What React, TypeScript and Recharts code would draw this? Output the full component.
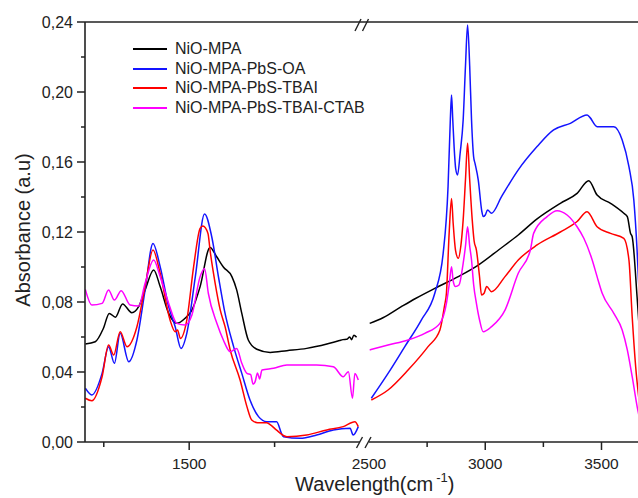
import React from 'react';
import { LineChart, Line, XAxis, YAxis, Legend } from 'recharts';

const FONT = '"Liberation Sans", Arial, sans-serif';
const INK = '#222222';

const seriesNames = ['NiO-MPA', 'NiO-MPA-PbS-OA', 'NiO-MPA-PbS-TBAI', 'NiO-MPA-PbS-TBAI-CTAB'];
const seriesColors = ['#000000', '#1414ff', '#ff0000', '#ff00ff'];

const yTicks = [0, 0.02, 0.04, 0.06, 0.08, 0.1, 0.12, 0.14, 0.16, 0.18, 0.2, 0.22, 0.24];
const leftTicks = [1250, 1500, 1750];
const rightTicks = [2500, 2750, 3000, 3250, 3500];
const labelledXTicks = [1500, 2500, 3000, 3500];
const leftDomain = [1195, 2000];
const rightDomain = [2500, 3700];

// [wavenumber, absorbance] — segment below the axis break
const nioMpaLeft: [number, number][] = [
  [1196, 0.056], [1225, 0.0573], [1249, 0.065], [1266, 0.0735], [1284, 0.0713], [1305, 0.0789],
  [1332, 0.0739], [1352, 0.0773], [1371, 0.0869], [1396, 0.0983], [1415, 0.0888], [1440, 0.0735],
  [1464, 0.0678], [1488, 0.0707], [1508, 0.0754], [1532, 0.0888], [1561, 0.1112], [1580, 0.106],
  [1600, 0.1], [1625, 0.0945], [1639, 0.0869], [1654, 0.0735], [1673, 0.0583], [1698, 0.053],
  [1737, 0.0512], [1786, 0.0522], [1844, 0.0535], [1903, 0.056], [1940, 0.058], [1950, 0.0585],
  [1961, 0.0587], [1970, 0.06], [1975, 0.0585], [1982, 0.061], [1990, 0.0598],
];
const oaLeft: [number, number][] = [
  [1196, 0.0307], [1215, 0.0269], [1245, 0.0392], [1264, 0.0545], [1281, 0.045], [1298, 0.0621],
  [1323, 0.0459], [1347, 0.0583], [1371, 0.0869], [1394, 0.1135], [1415, 0.1002], [1440, 0.0773],
  [1459, 0.0659], [1476, 0.0535], [1493, 0.0621], [1518, 0.0945], [1545, 0.1303], [1566, 0.1173],
  [1586, 0.094], [1603, 0.0754], [1630, 0.0545], [1654, 0.0392], [1678, 0.024], [1703, 0.0145],
  [1727, 0.0116], [1756, 0.0116], [1770, 0.005], [1776, 0.003], [1825, 0.0021], [1873, 0.004],
  [1922, 0.0069], [1971, 0.0078], [1980, 0.004], [1995, 0.0088],
];
const tbaiLeft: [number, number][] = [
  [1196, 0.025], [1215, 0.0236], [1245, 0.0373], [1264, 0.0554], [1279, 0.0497], [1298, 0.063],
  [1318, 0.0545], [1347, 0.0659], [1371, 0.0888], [1394, 0.1097], [1415, 0.0964], [1444, 0.0697],
  [1459, 0.063], [1466, 0.064], [1474, 0.0592], [1493, 0.0697], [1513, 0.1002], [1532, 0.1221],
  [1540, 0.1234], [1555, 0.1192], [1561, 0.1097], [1576, 0.0907], [1591, 0.0754], [1605, 0.0659],
  [1620, 0.0526], [1649, 0.0354], [1669, 0.0202], [1683, 0.0126], [1700, 0.011], [1727, 0.011],
  [1740, 0.0095], [1755, 0.0069], [1786, 0.003], [1844, 0.004], [1903, 0.0069], [1951, 0.0088],
  [1985, 0.0116], [1995, 0.0088],
];
const ctabLeft: [number, number][] = [
  [1196, 0.0872], [1215, 0.0783], [1245, 0.0792], [1264, 0.0869], [1281, 0.0811], [1301, 0.0865],
  [1327, 0.0783], [1352, 0.0777], [1371, 0.0907], [1396, 0.104], [1415, 0.0945], [1440, 0.0792],
  [1464, 0.0678], [1488, 0.0669], [1508, 0.0726], [1532, 0.0945], [1545, 0.0992], [1556, 0.085],
  [1581, 0.0678], [1600, 0.0583], [1620, 0.0516], [1639, 0.0535], [1654, 0.045], [1669, 0.0392],
  [1680, 0.0385], [1687, 0.033], [1693, 0.0345], [1700, 0.0395], [1706, 0.036], [1713, 0.0411],
  [1747, 0.0421], [1786, 0.044], [1825, 0.044], [1873, 0.044], [1922, 0.043], [1951, 0.0373],
  [1966, 0.0402], [1978, 0.025], [1985, 0.0392], [1995, 0.0354],
];

// segment above the axis break
const nioMpaRight: [number, number][] = [
  [2503, 0.0678], [2560, 0.071], [2639, 0.0773], [2700, 0.082], [2783, 0.0878], [2884, 0.0945],
  [2970, 0.1011], [3060, 0.11], [3142, 0.1183], [3223, 0.1275], [3323, 0.1364], [3395, 0.1421],
  [3445, 0.1493], [3481, 0.1411], [3539, 0.1364], [3596, 0.1307], [3611, 0.1288], [3625, 0.1192],
  [3632, 0.1173], [3653, 0.083], [3670, 0.05],
];
const oaRight: [number, number][] = [
  [2510, 0.025], [2582, 0.0392], [2654, 0.0545], [2725, 0.0697], [2783, 0.085], [2819, 0.1078],
  [2840, 0.1459], [2850, 0.185], [2855, 0.1983], [2860, 0.185], [2866, 0.1688], [2873, 0.156],
  [2881, 0.1526], [2892, 0.165], [2905, 0.184], [2915, 0.215], [2924, 0.2383], [2933, 0.215],
  [2941, 0.184], [2950, 0.163], [2956, 0.1592], [2970, 0.1497], [2985, 0.132], [2991, 0.1288],
  [3000, 0.1297], [3010, 0.1326], [3027, 0.1307], [3070, 0.1402], [3142, 0.1555], [3223, 0.1688],
  [3294, 0.1783], [3366, 0.1821], [3438, 0.1869], [3450, 0.1855], [3481, 0.1802], [3553, 0.1802],
  [3589, 0.1726], [3618, 0.1573], [3639, 0.1383], [3653, 0.1097], [3660, 0.09], [3675, 0.05],
];
const tbaiRight: [number, number][] = [
  [2510, 0.024], [2582, 0.0297], [2668, 0.0411], [2754, 0.0545], [2805, 0.064], [2825, 0.078],
  [2833, 0.085], [2845, 0.12], [2855, 0.1392], [2862, 0.125], [2872, 0.1097], [2884, 0.105],
  [2895, 0.112], [2905, 0.1269], [2915, 0.15], [2924, 0.1707], [2933, 0.15], [2944, 0.1269],
  [2952, 0.115], [2962, 0.1097], [2975, 0.095], [2984, 0.084], [2995, 0.085], [3006, 0.0888],
  [3027, 0.0859], [3085, 0.0945], [3142, 0.104], [3223, 0.1126], [3323, 0.12], [3395, 0.126],
  [3438, 0.1316], [3481, 0.123], [3539, 0.1192], [3596, 0.1164], [3618, 0.104], [3632, 0.0716],
  [3647, 0.043], [3665, 0.02],
];
const ctabRight: [number, number][] = [
  [2503, 0.0526], [2582, 0.0554], [2668, 0.0583], [2740, 0.0621], [2805, 0.0678], [2833, 0.0792],
  [2845, 0.09], [2855, 0.1002], [2862, 0.092], [2872, 0.0888], [2887, 0.0897], [2905, 0.1021],
  [2915, 0.112], [2924, 0.123], [2933, 0.112], [2941, 0.104], [2950, 0.09], [2962, 0.0792],
  [2975, 0.07], [2991, 0.063], [3027, 0.0659], [3085, 0.0754], [3142, 0.0964], [3194, 0.1097],
  [3208, 0.1192], [3266, 0.1288], [3309, 0.1322], [3352, 0.1297], [3395, 0.123], [3424, 0.1164],
  [3460, 0.104], [3481, 0.0945], [3503, 0.085], [3553, 0.0735], [3589, 0.064], [3611, 0.0526],
  [3632, 0.0373], [3656, 0.0183], [3670, 0.01],
];

const toRows = (pairs: [number, number][]) => pairs.map(([x, y]) => ({ x, y }));
const leftSets = [nioMpaLeft, oaLeft, tbaiLeft, ctabLeft].map(toRows);
const rightSets = [nioMpaRight, oaRight, tbaiRight, ctabRight].map(toRows);

const YTick = (props: any) => {
  const { x, y, payload } = props;
  const v = payload.value;
  const major = Math.abs(v * 25 - Math.round(v * 25)) < 1e-6;
  const ax = x + 12;
  return (
    <g>
      <line x1={ax - (major ? 8 : 4)} x2={ax} y1={y} y2={y} stroke={INK} strokeWidth={1.5} />
      {major && (
        <text x={x} y={y} dy="0.36em" textAnchor="end" fontSize={16} fontFamily={FONT} fill={INK}>
          {v.toFixed(2).replace('.', ',')}
        </text>
      )}
    </g>
  );
};

const XTick = (props: any) => {
  const { x, y, payload } = props;
  const v = payload.value;
  const major = labelledXTicks.includes(v);
  const ay = y - 16;
  return (
    <g>
      {v !== 2500 && (
        <line x1={x} x2={x} y1={ay} y2={ay + (major ? 8 : 5)} stroke={INK} strokeWidth={1.5} />
      )}
      {major && (
        <text x={x} y={y} dy="0.71em" textAnchor="middle" fontSize={15.5} fontFamily={FONT} fill={INK}>
          {v}
        </text>
      )}
    </g>
  );
};

const LegendBox = (props: any) => {
  const items = props.payload || [];
  return (
    <div style={{ fontFamily: FONT, fontSize: 16, color: INK }}>
      {items.map((it: any, i: number) => (
        <div key={i} style={{ display: 'flex', alignItems: 'center', height: 19.7 }}>
          <svg width={34} height={4} style={{ display: 'block' }}>
            <line x1={0} x2={34} y1={2} y2={2} stroke={it.color} strokeWidth={1.8} />
          </svg>
          <span style={{ marginLeft: 8, whiteSpace: 'nowrap', lineHeight: '19.7px' }}>{it.value}</span>
        </div>
      ))}
    </div>
  );
};

const YTitle = (props: any) => {
  const vb = props.viewBox || { x: 0, y: 22, width: 85, height: 420 };
  const cx = vb.x + 23;
  const cy = vb.y + vb.height / 2 - 2;
  return (
    <text
      transform={`translate(${cx},${cy}) rotate(-90)`}
      textAnchor="middle"
      dominantBaseline="central"
      fontSize={20}
      fontFamily={FONT}
      fill={INK}
    >
      Absorbance (a.u)
    </text>
  );
};

const axisStroke = { stroke: INK, strokeWidth: 1.6 };

export default function App() {
  return (
    <div style={{ position: 'absolute', left: 0, top: 0, width: 638, height: 498, overflow: 'hidden', background: '#fff' }}>
      <div style={{ position: 'absolute', left: 330, top: 0 }}>
        <LineChart width={318} height={498} margin={{ top: 22, right: 0, bottom: 0, left: 39 }}>
          <XAxis
            type="number"
            dataKey="x"
            domain={rightDomain}
            allowDataOverflow
            ticks={rightTicks}
            interval={0}
            tick={<XTick />}
            tickLine={false}
            tickSize={0}
            tickMargin={16}
            axisLine={axisStroke}
            height={56}
          />
          <YAxis type="number" domain={[0, 0.24]} hide allowDataOverflow />
          {rightSets.map((d, i) => (
            <Line
              key={i}
              data={d}
              dataKey="y"
              name={seriesNames[i]}
              type="monotone"
              stroke={seriesColors[i]}
              strokeWidth={1.5}
              dot={false}
              isAnimationActive={false}
            />
          ))}
        </LineChart>
      </div>
      <div style={{ position: 'absolute', left: 0, top: 0 }}>
        <LineChart width={365} height={498} margin={{ top: 22, right: 5, bottom: 0, left: 0 }}>
          <XAxis
            type="number"
            dataKey="x"
            domain={leftDomain}
            allowDataOverflow
            ticks={leftTicks}
            interval={0}
            tick={<XTick />}
            tickLine={false}
            tickSize={0}
            tickMargin={16}
            axisLine={axisStroke}
            height={56}
          />
          <YAxis
            type="number"
            domain={[0, 0.24]}
            allowDataOverflow
            ticks={yTicks}
            interval={0}
            width={85}
            tick={<YTick />}
            tickLine={false}
            tickSize={0}
            tickMargin={12}
            axisLine={axisStroke}
            label={{ content: (p: any) => <YTitle {...p} /> }}
          />
          <Legend
            layout="vertical"
            verticalAlign="middle"
            align="center"
            content={<LegendBox />}
            wrapperStyle={{ left: 133, top: 39, width: 270 }}
          />
          {leftSets.map((d, i) => (
            <Line
              key={i}
              data={d}
              dataKey="y"
              name={seriesNames[i]}
              type="monotone"
              stroke={seriesColors[i]}
              strokeWidth={1.5}
              dot={false}
              isAnimationActive={false}
            />
          ))}
        </LineChart>
      </div>
      <svg width={638} height={498} style={{ position: 'absolute', left: 0, top: 0, pointerEvents: 'none' }}>
        <line x1={85} x2={638} y1={22} y2={22} stroke={INK} strokeWidth={1.6} />
        <g stroke={INK} strokeWidth={1.4}>
          <line x1={355} y1={31} x2={361} y2={19} />
          <line x1={362.5} y1={31} x2={368.5} y2={19} />
          <line x1={356.5} y1={448} x2={362.5} y2={437} />
          <line x1={365} y1={448} x2={371} y2={437} />
        </g>
        <text x={295} y={491} fontSize={20} fontFamily={FONT} fill={INK}>
          <tspan>Wavelength(cm</tspan>
          <tspan dx={3} dy={-9} fontSize={13}>-1</tspan>
          <tspan dy={9}>)</tspan>
        </text>
      </svg>
    </div>
  );
}
